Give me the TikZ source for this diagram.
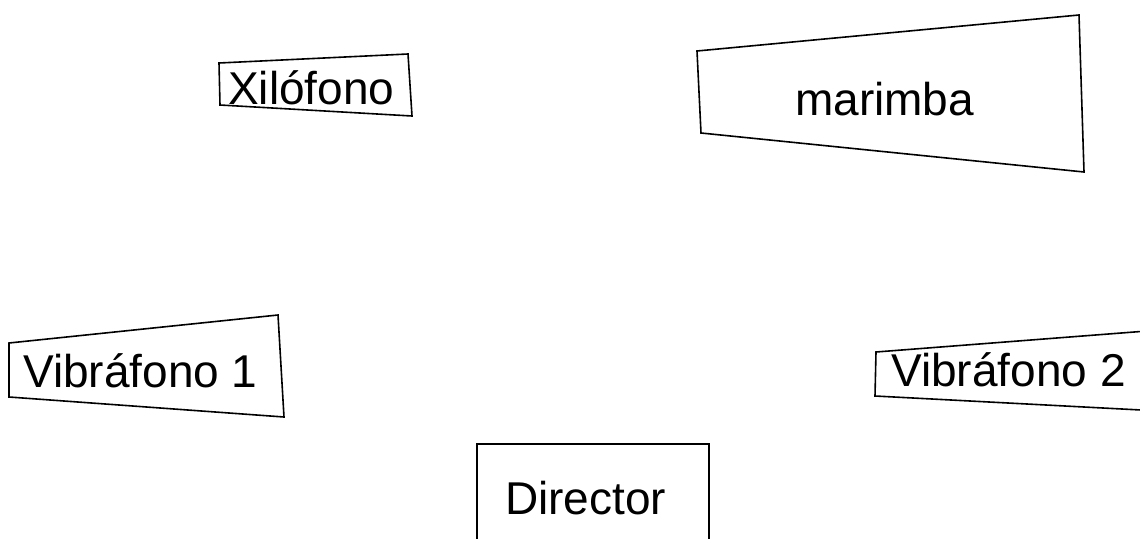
\documentclass[tikz,border=0pt]{standalone}
\usepackage{fontspec}
\setmainfont{Liberation Sans}
\begin{document}
\begin{tikzpicture}[x=1pt,y=-1pt,
  outline/.style={draw=black,line width=1.6pt,line join=miter},
  label/.style={inner sep=0pt,anchor=base west,font=\fontsize{46}{55}\selectfont}]
\useasboundingbox (0,0) rectangle (1140,538);
\fill[white] (0,0) rectangle (1140,538);

% Xilófono
\draw[outline] (219,63) -- (408,54) -- (412,116) -- (220,105) -- cycle;
\node[label] (xilofono) at (228,104) {Xilófono};

% marimba
\draw[outline] (697,51) -- (1079,15) -- (1084,172) -- (701,133) -- cycle;
\node[label] (marimba) at (795,115) {marimba};

% Vibráfono 1
\draw[outline] (9,343) -- (278,315) -- (284,417) -- (9,397) -- cycle;
\node[label] (vib1) at (23,387) {Vibráfono 1};

% Vibráfono 2 (runs past the right edge)
\draw[outline] (1160,330) -- (876,352) -- (875,396) -- (1160,411);
\node[label] (vib2) at (891,386) {Vibráfono 2};

% Director (runs past the bottom edge)
\draw[outline] (477,560) -- (477,444) -- (709,444) -- (709,560);
\node[label] (director) at (505,514) {Director};
\end{tikzpicture}
\end{document}
